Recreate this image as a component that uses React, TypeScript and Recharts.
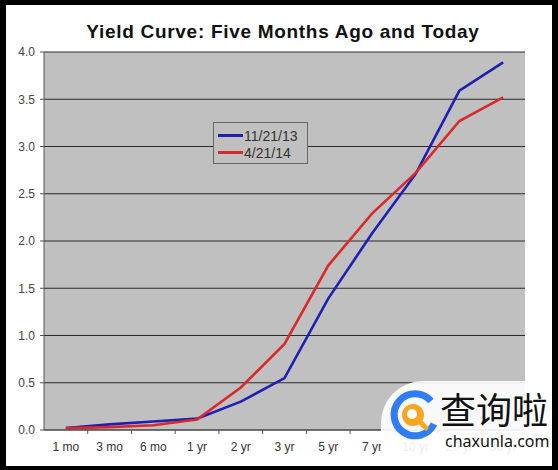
import React from "react"
import { LineChart, Line, XAxis, YAxis, CartesianGrid } from "recharts"

const maturities = ["1 mo", "3 mo", "6 mo", "1 yr", "2 yr", "3 yr", "5 yr", "7 yr", "10 yr", "20 yr", "30 yr"]
const nov2013 = [0.02, 0.06, 0.09, 0.12, 0.3, 0.55, 1.39, 2.08, 2.71, 3.59, 3.89]
const apr2014 = [0.02, 0.03, 0.05, 0.11, 0.45, 0.91, 1.74, 2.29, 2.72, 3.27, 3.52]
const yTicks = [0, 0.5, 1, 1.5, 2, 2.5, 3, 3.5, 4]
const seriesNames = ["11/21/13", "4/21/14"]

const data = maturities.map((m, i) => ({ m, a: nov2013[i], b: apr2014[i] }))

const FONT = '"Liberation Sans", Arial, sans-serif'
const BLUE = "#1f1fb4"
const RED = "#d82a2a"
const BAND = 481 / 11

// label at category centre, tick mark on the category boundary (excel style)
function XTick(props: any) {
  const { x, y, payload } = props
  return (
    <g>
      <line x1={x + BAND / 2} x2={x + BAND / 2} y1={y} y2={y + 4} stroke="#555" />
      <text x={x} y={y + 21} textAnchor="middle" fontSize={12} fill="#333" fontFamily={FONT}>
        {payload.value}
      </text>
    </g>
  )
}

export default function App() {
  return (
    <div style={{ position: "absolute", left: 0, top: 0, width: 558, height: 470, background: "#fff", overflow: "hidden" }}>
      <div
        style={{
          position: "absolute",
          left: 0,
          top: 21,
          width: 566,
          textAlign: "center",
          fontFamily: FONT,
          fontWeight: "bold",
          fontSize: 19,
          letterSpacing: 0.7,
          color: "#111",
        }}
      >
        Yield Curve: Five Months Ago and Today
      </div>

      <LineChart width={558} height={470} data={data} margin={{ top: 52, right: 33, bottom: 0, left: 0 }}>
        <CartesianGrid vertical={false} fill="#c0c0c0" stroke="#2a2a2a" />
        <XAxis
          dataKey="m"
          height={40}
          padding={{ left: BAND / 2, right: BAND / 2 }}
          tickSize={0}
          tickMargin={0}
          tickLine={false}
          axisLine={{ stroke: "#555" }}
          interval={0}
          tick={<XTick />}
        />
        <YAxis
          width={44}
          domain={[0, 4]}
          ticks={yTicks}
          tickFormatter={(v: number) => v.toFixed(1)}
          tickSize={4}
          tickMargin={5}
          axisLine={{ stroke: "#555" }}
          tickLine={{ stroke: "#555" }}
          tick={{ fontSize: 12, fill: "#444", fontFamily: FONT }}
        />
        <Line type="linear" dataKey="a" stroke={BLUE} strokeWidth={2.6} dot={false} isAnimationActive={false} />
        <Line type="linear" dataKey="b" stroke={RED} strokeWidth={2.6} dot={false} isAnimationActive={false} />
      </LineChart>

      {/* legend */}
      <div
        style={{
          position: "absolute",
          left: 213,
          top: 122,
          width: 95,
          height: 42,
          background: "#c0c0c0",
          border: "1px solid #666",
          fontFamily: FONT,
          fontSize: 14,
          color: "#333",
          boxSizing: "border-box",
          padding: "4px 0 0 4px",
        }}
      >
        {seriesNames.map((n, i) => (
          <div key={n} style={{ display: "flex", alignItems: "center", height: 17 }}>
            <span style={{ display: "inline-block", width: 25, height: 2.5, background: i === 0 ? BLUE : RED }} />
            <span style={{ marginLeft: 1 }}>{n}</span>
          </div>
        ))}
      </div>

      {/* watermark */}
      <div
        style={{
          position: "absolute",
          left: 381,
          top: 381,
          width: 190,
          height: 100,
          background: "rgba(255,255,255,0.9)",
          borderTopLeftRadius: 42,
        }}
      />
      <svg style={{ position: "absolute", left: 386, top: 388 }} width={56} height={56}>
        <path d="M 45 13 A 21 21 0 1 0 48 36" fill="none" stroke="#2f7df6" strokeWidth={7} />
        <circle cx={27} cy={27} r={11} fill="#f6a623" />
        <circle cx={26} cy={26} r={5} fill="#fff" />
        <line x1={33} y1={33} x2={40} y2={40} stroke="#f6a623" strokeWidth={5} strokeLinecap="round" />
      </svg>
      <div
        style={{
          position: "absolute",
          left: 440,
          top: 386,
          fontFamily: '"Noto Sans CJK SC", sans-serif',
          fontSize: 36,
          lineHeight: "44px",
          color: "#111",
        }}
      >
        查询啦
      </div>
      <div
        style={{
          position: "absolute",
          left: 445,
          top: 430,
          fontFamily: '"Noto Sans", sans-serif',
          fontSize: 16,
          color: "#111",
        }}
      >
        chaxunla.com
      </div>

      {/* black frame */}
      <div
        style={{
          position: "absolute",
          inset: 0,
          borderStyle: "solid",
          borderColor: "#000",
          borderWidth: "5px 6px 4px 6px",
          pointerEvents: "none",
        }}
      />
    </div>
  )
}
